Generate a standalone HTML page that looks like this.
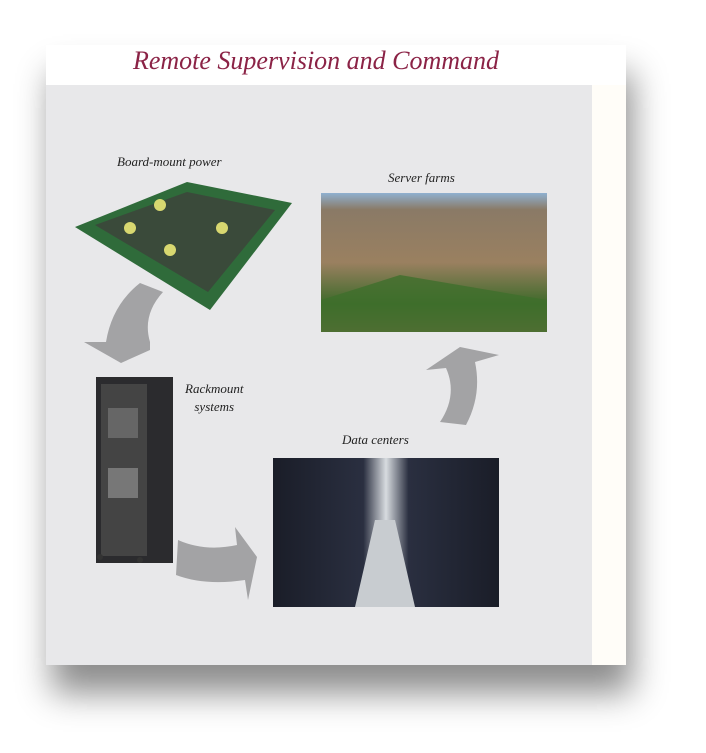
<!DOCTYPE html>
<html><head><meta charset="utf-8"><style>
body{margin:0;width:706px;height:753px;background:#fff;overflow:hidden;position:relative;font-family:"Liberation Serif",serif}
.card{position:absolute;left:46px;top:45px;width:580px;height:620px;background:#fff;box-shadow:6px 28px 32px rgba(0,0,0,.45)}
.gray{position:absolute;left:46px;top:85px;width:546px;height:580px;background:#e8e8ea}
.strip{position:absolute;left:592px;top:85px;width:34px;height:580px;background:#fffdf8}
.t{position:absolute;font-style:italic;color:#222;font-size:13px;white-space:nowrap}
</style></head><body>
<div class="card"></div><div class="gray"></div><div class="strip"></div>
<div style="position:absolute;left:46px;top:46px;width:540px;text-align:center;color:#8b2346;font-style:italic;font-size:26px;font-family:'Liberation Serif',serif">Remote Supervision and Command</div>
<div class="t" style="left:117px;top:154px">Board-mount power</div>
<div class="t" style="left:388px;top:170px">Server farms</div>
<div class="t" style="left:185px;top:380px;text-align:center;line-height:18px">Rackmount<br>systems</div>
<div class="t" style="left:342px;top:432px">Data centers</div>
<svg width="706" height="753" style="position:absolute;left:0;top:0">
<defs>
<linearGradient id="sky" x1="0" y1="0" x2="0" y2="1"><stop offset="0" stop-color="#8fb0d0"/><stop offset=".12" stop-color="#8a7a66"/><stop offset=".5" stop-color="#9a8060"/><stop offset=".8" stop-color="#3d6a2a"/><stop offset="1" stop-color="#8a6a4a"/></linearGradient>
<linearGradient id="dc" x1="0" y1="0" x2="1" y2="0"><stop offset="0" stop-color="#1a1d28"/><stop offset=".4" stop-color="#2a2f40"/><stop offset=".5" stop-color="#d8dce0"/><stop offset=".6" stop-color="#2a2f40"/><stop offset="1" stop-color="#1a1d28"/></linearGradient>
</defs>
<polygon points="75,227 187,182 292,203 210,310" fill="#2f6b3a"/>
<polygon points="95,225 187,192 275,210 208,292" fill="#3a4a3a"/>
<circle cx="160" cy="205" r="6" fill="#d8d870"/><circle cx="130" cy="228" r="6" fill="#d8d870"/><circle cx="222" cy="228" r="6" fill="#d8d870"/><circle cx="170" cy="250" r="6" fill="#d8d870"/>
<rect x="321" y="193" width="226" height="139" fill="url(#sky)"/>
<polygon points="321,300 400,275 547,300 547,332 321,332" fill="#3f6f2c" opacity=".8"/>
<rect x="96" y="377" width="77" height="186" fill="#2b2b2e"/>
<rect x="101" y="384" width="46" height="172" fill="#444"/>
<rect x="108" y="468" width="30" height="30" fill="#777"/><rect x="108" y="408" width="30" height="30" fill="#666"/>
<circle cx="100" cy="557" r="3" fill="#333"/><circle cx="140" cy="560" r="3" fill="#333"/>
<rect x="273" y="458" width="226" height="149" fill="url(#dc)"/>
<polygon points="355,607 415,607 395,520 375,520" fill="#c8ccd0"/>
<path d="M140,283 L163,292 Q142,315 150,342 L150,350 L121,363 L84,342 L106,342 Q112,305 140,283 Z" fill="#a3a3a5"/>
<path d="M178,540 Q205,552 237,545 L235,527 L257,557 L248,600 L245,580 Q205,586 176,575 Z" fill="#a3a3a5"/>
<path d="M440,422 Q458,395 446,368 L426,370 L460,347 L499,355 L475,362 Q482,395 466,425 Z" fill="#a3a3a5"/>
</svg>
</body></html>
